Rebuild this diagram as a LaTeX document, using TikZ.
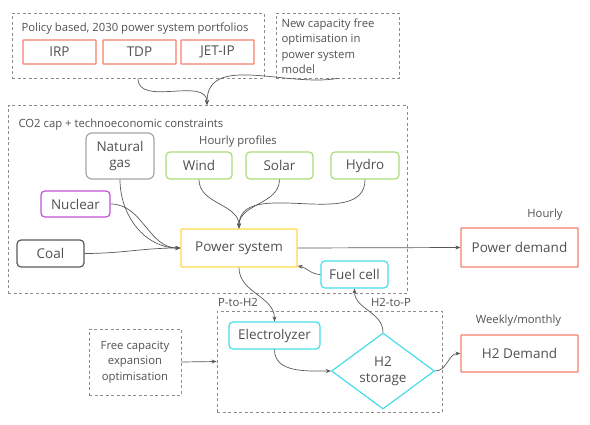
\documentclass[tikz,border=0pt]{standalone}
\usepackage{fontspec}
\setmainfont{Open Sans}
\usetikzlibrary{positioning,fit,shapes.geometric,arrows.meta}
\definecolor{demandred}{HTML}{F4806C}
\definecolor{renewgreen}{HTML}{A8DC7A}
\definecolor{nucpurple}{HTML}{C050D8}
\definecolor{hydrocyan}{HTML}{45DDE8}
\definecolor{sysyellow}{HTML}{FFD84A}
\definecolor{dashgray}{HTML}{8C8C8C}
\definecolor{textgray}{HTML}{505050}

\begin{document}
\begin{tikzpicture}[
        x=1pt, y=-1pt,
        font=\fontsize{11.3}{13}\selectfont,
        >={Stealth[length=5pt,width=4pt]},
        group/.style={draw=dashgray, dash pattern=on 3pt off 2.5pt, line width=0.8pt, inner sep=0pt},
        box/.style={draw, rounded corners=4pt, line width=1.2pt, text=textgray, inner sep=0pt, font=\fontsize{13.5}{16}\selectfont, align=center},
        portfolio/.style={box, draw=demandred, rounded corners=0.5pt},
        renewable/.style={box, draw=renewgreen, minimum height=27},
        hydrogen/.style={box, draw=hydrocyan, minimum height=27},
        demand/.style={box, draw=demandred, rounded corners=0.5pt},
        caption/.style={text=textgray},
        link/.style={->, line width=0.7pt, draw=black!65},
    ]
    \useasboundingbox (0,0) rectangle (590,424);

    % portfolios
    \node[group, minimum width=252, minimum height=65] (policy) at (138,45.5) {};
    \node[caption, anchor=base west] (policytitle) at (18,31) {Policy based, 2030 power system portfolios};
    \node[portfolio, minimum width=73, minimum height=24] (irp) at (59.5,52) {IRP};
    \node[portfolio, minimum width=73, minimum height=24] (tdp) at (139.5,52) {TDP};
    \node[portfolio, minimum width=73, minimum height=24] (jetip) at (217.5,52) {JET-IP};
    \node[group, minimum width=123, minimum height=65] (newcap) at (337.5,45.5) {};
    \node[caption, anchor=north west, align=left, font=\fontsize{11.3}{15.6}\selectfont] (newcaptext) at (278,15)
        {New capacity free\\optimisation in\\power system\\model};

    % constraints
    \node[group, minimum width=399, minimum height=188] (constraints) at (207.5,199) {};
    \coordinate (merge) at (207,105);
    \node[caption, anchor=base west] (co2) at (15,127) {CO2 cap + technoeconomic constraints};
    \node[box, draw=black!35, rounded corners=6pt, minimum width=68, minimum height=46] (natgas) at (120,156) {Natural\\gas};
    \node[caption] (hourlyprof) at (238,142) {Hourly profiles};
    \node[renewable, minimum width=66] (wind) at (199,165.5) {Wind};
    \node[renewable, minimum width=67] (solar) at (279.5,165.5) {Solar};
    \node[renewable, minimum width=68] (hydro) at (365,165.5) {Hydro};
    \node[box, draw=nucpurple, minimum width=69, minimum height=26] (nuclear) at (75.5,204) {Nuclear};
    \node[box, draw=black!65, minimum width=67, minimum height=27] (coal) at (50.5,253.5) {Coal};
    \node[box, draw=sysyellow, rounded corners=1pt, minimum width=116, minimum height=38] (power) at (239,248) {Power system};
    \node[hydrogen, minimum width=67] (fuelcell) at (354.5,274.5) {Fuel cell};

    % demand
    \node[caption] (hourly) at (545,215) {Hourly};
    \node[demand, minimum width=117, minimum height=39] (pdemand) at (519.5,247.5) {Power demand};

    % hydrogen
    \node[group, minimum width=225, minimum height=101] (h2group) at (329.5,361.5) {};
    \node[caption] (ptoh2) at (238,302) {P-to-H2};
    \node[caption] (h2top) at (391,302) {H2-to-P};
    \node[hydrogen, minimum width=91] (electrolyzer) at (274.5,335.5) {Electrolyzer};
    \node[box, draw=hydrocyan, shape=diamond, rounded corners=0pt, minimum width=103, minimum height=74] (storage) at (383,371) {H2\\storage};
    \node[group, align=center, text=textgray, font=\fontsize{11.3}{15.5}\selectfont, minimum width=92, minimum height=66] (freecap) at (135,362)
        {Free capacity\\expansion\\optimisation};
    \node[caption] (weekly) at (518.5,321) {Weekly/monthly};
    \node[demand, minimum width=117, minimum height=37] (h2demand) at (519.5,353.5) {H2 Demand};

    % connectors
    \draw[link] (policy.south) to[out=-90, in=90] (merge);
    \draw[link] (newcap.south) to[out=190, in=90] (merge);
    \draw[link] (natgas.south) to[out=-90, in=180] (power.west);
    \draw[link] (nuclear.east) to[out=0, in=180] (power.west);
    \draw[link] (coal.east) to[out=0, in=180] (power.west);
    \foreach \src in {wind,solar,hydro}
        \draw[link] (\src.south) to[out=-90, in=90] (power.north);
    \draw[link] (power.east) -- (pdemand.west);
    \draw[link] (fuelcell.west) to[out=180, in=-10] ([yshift=-18pt]power.east);
    \draw[link] (power.south) to[out=-90, in=90] (electrolyzer.north);
    \draw[link] (electrolyzer.south) to[out=-90, in=180] (storage.west);
    \draw[link] (storage.north) to[out=90, in=-90] (fuelcell.south);
    \draw[link] (storage.east) to[out=0, in=180] (h2demand.west);
    \draw[link] (freecap.east) -- (h2group.west);

\end{tikzpicture}
\end{document}
